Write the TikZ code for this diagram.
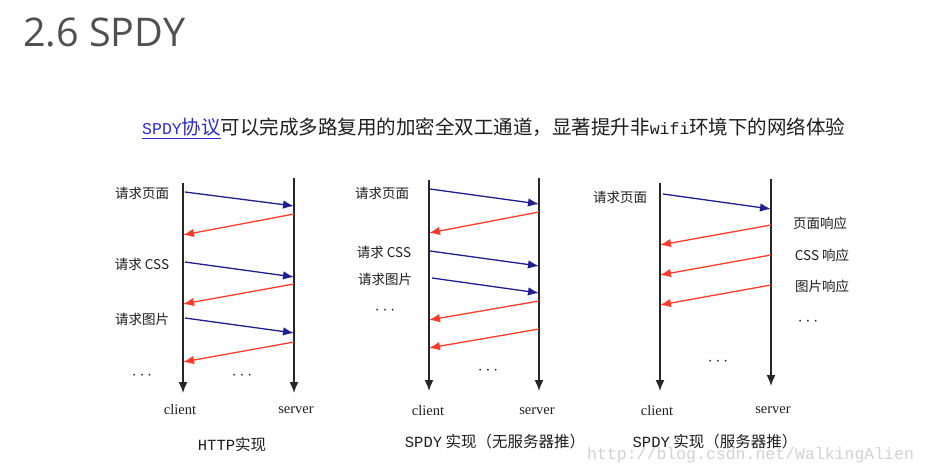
\documentclass[tikz,border=0pt]{standalone}
\usepackage{fontspec}
\setmainfont{Liberation Serif}
\newfontfamily\cjk{Noto Sans CJK SC}
\newfontfamily\titlef{Open Sans}
\newfontfamily\mono{Liberation Mono}
\usetikzlibrary{arrows.meta}
\definecolor{titlegray}{HTML}{505050}
\definecolor{linkblue}{HTML}{2B2BD0}
\definecolor{reqblue}{HTML}{1F1F8F}
\definecolor{resred}{HTML}{FF3B2B}
\definecolor{wmgray}{HTML}{D2D2D2}
\definecolor{txt}{HTML}{1E1E1E}
\tikzset{
  life/.style={line width=1.6pt, black!85, -{Latex[length=11pt,width=9pt]}},
  req/.style={line width=1.3pt, reqblue, -{Latex[length=11pt,width=8.5pt]}},
  res/.style={line width=1.3pt, resred, -{Latex[length=11pt,width=8.5pt]}},
  lbl/.style={inner sep=0pt, text=txt, font=\cjk\fontsize{13.5}{13.5}\selectfont},
  ep/.style={inner sep=0pt, text=txt, font=\fontsize{14.5}{14.5}\selectfont},
  capt/.style={inner sep=0pt, text=txt, font=\cjk\fontsize{15.5}{15.5}\selectfont},
  dotsn/.style={inner sep=0pt, text=txt, font=\fontsize{17}{17}\selectfont},
}
\begin{document}
\begin{tikzpicture}[x=1pt, y=-1pt]
\useasboundingbox[fill=white] (0,0) rectangle (928,473);

% title and header
\node[anchor=base west, inner sep=0pt, text=titlegray, font=\titlef\fontsize{39.5}{39.5}\selectfont] (title) at (23,47) {2.6 SPDY};
\node[anchor=base west, inner sep=0pt, text=txt, font=\cjk\fontsize{19.5}{19.5}\selectfont] (head) at (142,135)
  {\textcolor{linkblue}{\underline{{\mono\fontsize{16.5}{16.5}\selectfont SPDY}协议}}可以完成多路复用的加密全双工通道，显著提升非{\mono\fontsize{16.5}{16.5}\selectfont wifi}环境下的网络体验};

% ---------------- diagram 1: HTTP ----------------
\coordinate (c1t) at (183,183); \coordinate (c1b) at (183,393);
\coordinate (s1t) at (294,178); \coordinate (s1b) at (294,393);
\draw[life] (c1t) -- (c1b);
\draw[life] (s1t) -- (s1b);
\coordinate (a1) at (185,192); \coordinate (b1) at (294,206);
\coordinate (a2) at (294,214); \coordinate (b2) at (183,235);
\coordinate (a3) at (185,262); \coordinate (b3) at (294,277);
\coordinate (a4) at (294,284); \coordinate (b4) at (183,304);
\coordinate (a5) at (185,318); \coordinate (b5) at (294,333);
\coordinate (a6) at (294,342); \coordinate (b6) at (183,362);
\draw[req] (a1) -- (b1);
\draw[res] (a2) -- (b2);
\draw[req] (a3) -- (b3);
\draw[res] (a4) -- (b4);
\draw[req] (a5) -- (b5);
\draw[res] (a6) -- (b6);
\node[lbl] (l11) at (142,193) {请求页面};
\node[lbl] (l12) at (142,264) {请求 CSS};
\node[lbl] (l13) at (142,319) {请求图片};
\node[dotsn] (d11) at (142,376) {$\cdots$};
\node[dotsn] (d12) at (242,376) {$\cdots$};
\node[ep] (cl1) at (180,410) {client};
\node[ep] (sv1) at (296,410) {server};
\node[capt] (cap1) at (232,445) {{\mono HTTP}实现};

% ---------------- diagram 2: SPDY no push ----------------
\coordinate (c2t) at (429,180); \coordinate (c2b) at (429,391);
\coordinate (s2t) at (539,178); \coordinate (s2b) at (539,391);
\draw[life] (c2t) -- (c2b);
\draw[life] (s2t) -- (s2b);
\coordinate (e1) at (430,189); \coordinate (f1) at (539,204);
\coordinate (e2) at (539,212); \coordinate (f2) at (429,233);
\coordinate (e3) at (430,251); \coordinate (f3) at (539,266);
\coordinate (e4) at (432,278); \coordinate (f4) at (539,293);
\coordinate (e5) at (539,301); \coordinate (f5) at (429,320);
\coordinate (e6) at (539,329); \coordinate (f6) at (429,348);
\draw[req] (e1) -- (f1);
\draw[res] (e2) -- (f2);
\draw[req] (e3) -- (f3);
\draw[req] (e4) -- (f4);
\draw[res] (e5) -- (f5);
\draw[res] (e6) -- (f6);
\node[lbl] (l21) at (382,193) {请求页面};
\node[lbl] (l22) at (384,252) {请求 CSS};
\node[lbl] (l23) at (385,279) {请求图片};
\node[dotsn] (d21) at (385,311) {$\cdots$};
\node[dotsn] (d22) at (488,371) {$\cdots$};
\node[ep] (cl2) at (428,411) {client};
\node[ep] (sv2) at (537,411) {server};
\node[capt] (cap2) at (495,442) {{\mono SPDY} 实现（无服务器推）};

% ---------------- diagram 3: SPDY with push ----------------
\coordinate (c3t) at (660,183); \coordinate (c3b) at (660,391);
\coordinate (s3t) at (771,179); \coordinate (s3b) at (771,386);
\draw[life] (c3t) -- (c3b);
\draw[life] (s3t) -- (s3b);
\coordinate (g1) at (663,194); \coordinate (h1) at (771,209);
\coordinate (g2) at (771,225); \coordinate (h2) at (660,245);
\coordinate (g3) at (771,255); \coordinate (h3) at (660,275);
\coordinate (g4) at (771,285); \coordinate (h4) at (660,305);
\draw[req] (g1) -- (h1);
\draw[res] (g2) -- (h2);
\draw[res] (g3) -- (h3);
\draw[res] (g4) -- (h4);
\node[lbl] (l31) at (620,197) {请求页面};
\node[lbl] (l32) at (820,223) {页面响应};
\node[lbl] (l33) at (822,255) {CSS 响应};
\node[lbl] (l34) at (822,286) {图片响应};
\node[dotsn] (d31) at (808,322) {$\cdots$};
\node[dotsn] (d32) at (718,362) {$\cdots$};
\node[ep] (cl3) at (657,411) {client};
\node[ep] (sv3) at (773,410) {server};
\node[capt] (cap3) at (715,442) {{\mono SPDY} 实现（服务器推）};

% watermark
\node[anchor=west, inner sep=0pt, text=wmgray, font=\mono\fontsize{16.5}{16.5}\selectfont] (wm) at (587,455) {http://blog.csdn.net/WalkingAlien};
\end{tikzpicture}
\end{document}
